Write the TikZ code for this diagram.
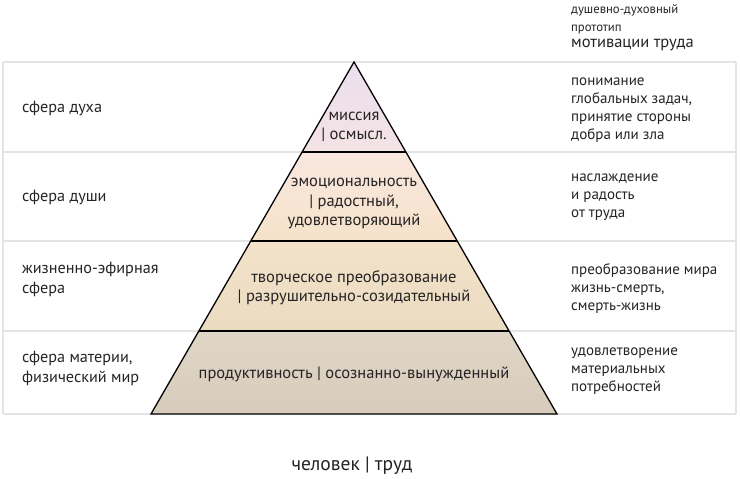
\documentclass[tikz,border=0pt]{standalone}
\usepackage{fontspec}
\setmainfont{PT Sans}
\definecolor{txt}{HTML}{262324}
\definecolor{gridc}{HTML}{E4E4E4}
\definecolor{cA1}{HTML}{EADFEE}
\definecolor{cA2}{HTML}{F4E3E5}
\definecolor{cB1}{HTML}{F8E7DF}
\definecolor{cB2}{HTML}{F6E2CA}
\definecolor{cC1}{HTML}{F2E2C9}
\definecolor{cC2}{HTML}{EBDBC1}
\definecolor{cD1}{HTML}{E0D6C7}
\definecolor{cD2}{HTML}{D7CCBB}
\begin{document}
\begin{tikzpicture}[x=1pt,y=1pt,
  gridline/.style={draw=gridc, line width=1.6pt},
  llab/.style={font=\fontsize{16.2}{20}\selectfont, text=txt, align=left, inner sep=0pt, anchor=west},
  rlab/.style={font=\fontsize{15}{18}\selectfont, text=txt, align=left, inner sep=0pt, anchor=west},
  ptext/.style={font=\fontsize{16.5}{19.5}\selectfont, text=txt, align=center, inner sep=0pt},
  edgeline/.style={draw=black, line width=1.3pt, line join=miter}]
\useasboundingbox (0,0) rectangle (740,479);
% frame / grid
\coordinate (g0l) at (3,417); \coordinate (g0r) at (736,417);
\coordinate (g1l) at (3,327); \coordinate (g1r) at (736,327);
\coordinate (g2l) at (3,238); \coordinate (g2r) at (736,238);
\coordinate (g3l) at (3,148); \coordinate (g3r) at (736,148);
\coordinate (g4l) at (3,65);  \coordinate (g4r) at (736,65);
\draw[gridline] (g0l) -- (g0r);
\draw[gridline] (g1l) -- (g1r);
\draw[gridline] (g2l) -- (g2r);
\draw[gridline] (g3l) -- (g3r);
\draw[gridline] (g4l) -- (g4r);
\draw[gridline] (g0l) -- (g4l);
\draw[gridline] (g0r) -- (g4r);
% pyramid
\coordinate (apex) at (354,417);
\coordinate (b1l) at (302.1,327); \coordinate (b1r) at (405.9,327);
\coordinate (b2l) at (250.8,238); \coordinate (b2r) at (457.2,238);
\coordinate (b3l) at (198.9,148); \coordinate (b3r) at (509.1,148);
\coordinate (bl) at (151,65); \coordinate (br) at (557,65);
\shade[top color=cA1, bottom color=cA2] (apex) -- (b1l) -- (b1r) -- cycle;
\shade[top color=cB1, bottom color=cB2] (b1l) -- (b2l) -- (b2r) -- (b1r) -- cycle;
\shade[top color=cC1, bottom color=cC2] (b2l) -- (b3l) -- (b3r) -- (b2r) -- cycle;
\shade[top color=cD1, bottom color=cD2] (b3l) -- (bl) -- (br) -- (b3r) -- cycle;
\draw[edgeline] (apex) -- (bl) -- (br) -- cycle;
\draw[edgeline] (b1l) -- (b1r);
\draw[edgeline] (b2l) -- (b2r);
\draw[edgeline] (b3l) -- (b3r);
% pyramid texts
\node[ptext] (p1) at (354,352) {миссия\\| осмысл.};
\node[ptext] (p2) at (354,275.5) {эмоциональность\\| радостный,\\удовлетворяющий};
\node[ptext] (p3) at (354,191.5) {творческое преобразование\\| разрушительно-созидательный};
\node[ptext] (p4) at (354,105) {продуктивность | осознанно-вынужденный};
% left texts
\node[llab] (l1) at (22,371) {сфера духа};
\node[llab] (l2) at (22,282) {сфера души};
\node[llab] (l3) at (22,200) {жизненно-эфирная\\сфера};
\node[llab] (l4) at (22,111) {сфера материи,\\физический мир};
% right texts
\node[rlab, font=\fontsize{12.7}{18}\selectfont] (h1) at (571,460) {душевно-духовный\\прототип};
\node[rlab, font=\fontsize{16.5}{18}\selectfont] (h2) at (571,434) {мотивации труда};
\node[rlab] (r1) at (571,369) {понимание\\глобальных задач,\\принятие стороны\\добра или зла};
\node[rlab] (r2) at (571,282) {наслаждение\\и радость\\от труда};
\node[rlab] (r3) at (571,190) {преобразование мира\\жизнь-смерть,\\смерть-жизнь};
\node[rlab] (r4) at (571,108) {удовлетворение\\материальных\\потребностей};
% bottom
\node[ptext, font=\fontsize{19.5}{20}\selectfont] (bt) at (352,13) {человек | труд};
\end{tikzpicture}
\end{document}
